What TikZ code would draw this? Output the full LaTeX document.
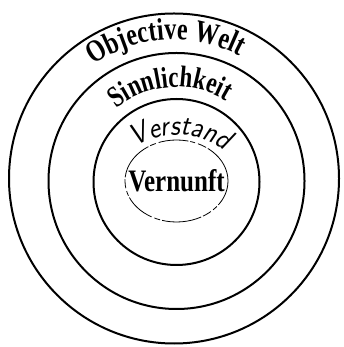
\documentclass[tikz,border=0pt]{standalone}
\usepackage{fontspec}
\usepackage{graphicx}
\newfontfamily\heavyfont{Liberation Serif}
\usetikzlibrary{shapes.geometric,decorations.text}

\begin{document}
\begin{tikzpicture}[x=1pt,y=1pt,ring/.style={circle,draw,line width=2pt,inner sep=0pt},
curved/.style n args={3}{decorate,decoration={text effects along path,text={#3},text align=center,
text effects/.cd,text along path,characters={font=#1,yscale=#2,inner sep=0pt}}}]
\useasboundingbox (0,0) rectangle (343,347);
\node[ring,minimum size=330pt] (welt) at (174,168.5) {};
\node[ring,minimum size=256pt] (sinn) at (176.5,166) {};
\node[ring,minimum size=166pt] (verstand) at (176.5,165) {};
\node[ellipse,draw,line width=0.8pt,inner sep=0pt,minimum width=103pt,minimum height=82pt,
dash pattern=on 40pt off 2pt on 9pt off 3pt on 5pt off 2pt on 30pt off 3pt on 6pt off 2pt,
font=\heavyfont\bfseries\fontsize{25}{26}\selectfont] (vernunft) at (176.5,166)
  {\makebox[0pt]{\scalebox{1}[1.25]{Vernunft}}};
% labels along the rings
\path[curved={\heavyfont\bfseries\fontsize{24}{24}\selectfont}{1.3}{Objective Welt}]
  ([shift={(143.5:139)}]welt.center) arc[start angle=143.5,end angle=43.5,radius=139];
\path[curved={\heavyfont\bfseries\fontsize{23}{23}\selectfont}{1.3}{Sinnlichkeit}]
  ([shift={(139:94)}]sinn.center) arc[start angle=139,end angle=49,radius=94];
\path[curved={\sffamily\itshape\fontsize{27}{27}\selectfont}{1.1}{Verstand}]
  ([shift={(128:77)}]178,135) arc[start angle=128,end angle=48,radius=77];
\end{tikzpicture}
\end{document}
